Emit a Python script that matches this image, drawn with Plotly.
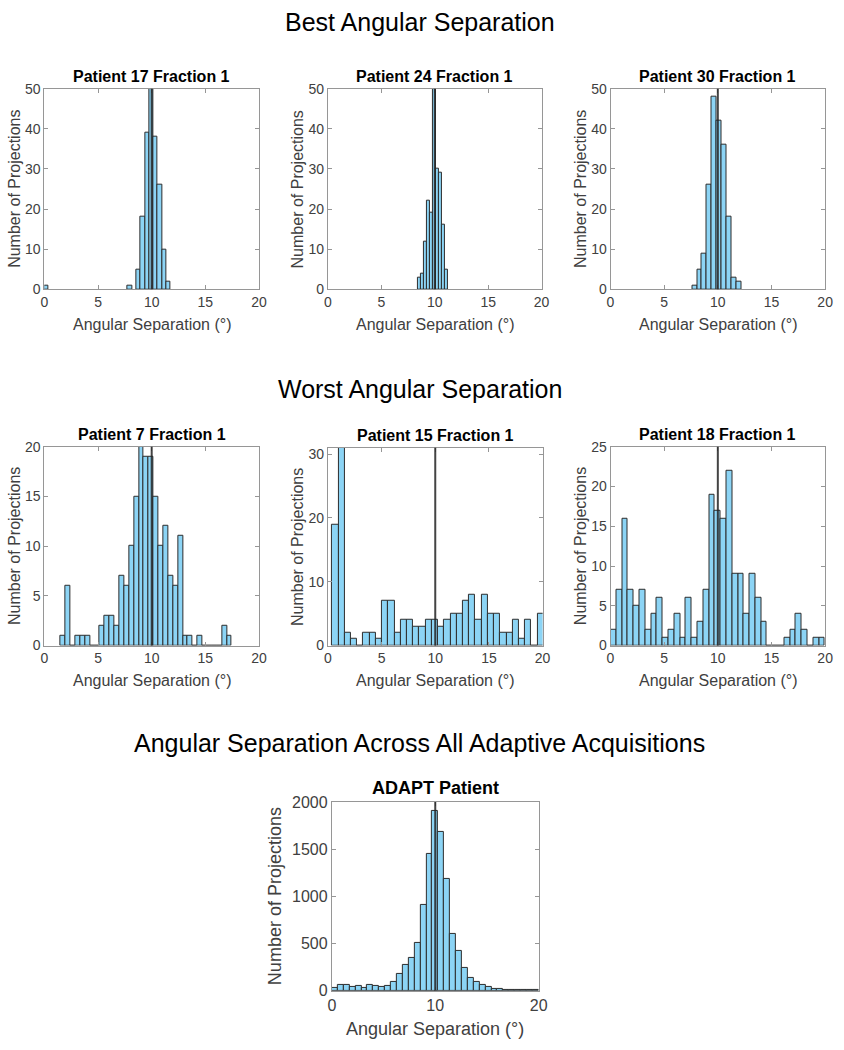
import plotly.graph_objects as go

W, H = 844, 1050
FONT = "Arial, Liberation Sans, sans-serif"

# ---- histogram data (bin centres / bin width / counts) ----
p17_x = [0.2, 7.97, 8.77, 9.17, 9.57, 9.97, 10.37, 10.77, 11.17, 11.57]
p17_counts = [1, 1, 5, 18, 39, 56, 38, 26, 10, 2]
p17_width = 0.4

p24_x0, p24_dx = 8.53, 0.283
p24_counts = [3, 4, 12, 22, 19, 58, 30, 29, 16, 5]

p30_x0, p30_dx = 7.84, 0.455
p30_counts = [1, 5, 9, 26, 48, 42, 36, 18, 3, 2]

p7_x0, p7_dx = 1.75, 0.4556
p7_counts = [1, 6, 0, 1, 1, 1, 0, 0, 2, 3, 3, 2, 7, 6, 10, 15, 20, 19, 19, 15,
             10, 12, 7, 6, 11, 1, 1, 0, 1, 0, 0, 0, 0, 2, 1]

p15_x0, p15_dx = 0.69, 0.58
p15_counts = [19, 40, 2, 1, 0, 2, 2, 1, 7, 7, 2, 4, 4, 3, 3, 4, 4, 3, 4, 5,
              5, 7, 8, 4, 8, 5, 5, 2, 2, 4, 1, 4, 0, 5]

p18_x0, p18_dx = 0.27, 0.54
p18_counts = [2, 7, 16, 7, 5, 7, 2, 4, 6, 1, 2, 4, 1, 6, 1, 3, 7, 19, 17, 16,
              22, 9, 9, 4, 9, 6, 3, 0, 0, 0, 1, 2, 4, 2, 0, 1, 1]

adapt_x0, adapt_dx = 0.2857, 0.5714
adapt_counts = [28, 63, 63, 45, 52, 35, 63, 56, 42, 52, 98, 178, 273, 350, 510,
                913, 1450, 1900, 1680, 1190, 605, 420, 245, 140, 91, 63, 42, 20,
                15, 12, 10, 8, 5, 5, 5]

titles = ["Patient 17 Fraction 1", "Patient 24 Fraction 1", "Patient 30 Fraction 1",
          "Patient 7 Fraction 1", "Patient 15 Fraction 1", "Patient 18 Fraction 1",
          "ADAPT Patient"]
section_titles = ["Best Angular Separation", "Worst Angular Separation",
                  "Angular Separation Across All Adaptive Acquisitions"]
y_ranges = [50, 50, 50, 20, 31, 25, 2000]
y_dticks = [10, 10, 10, 5, 10, 5, 500]
x_dticks = [5, 5, 5, 5, 5, 5, 10]
ref_angle = 10

# ---- layout geometry (page pixels: left, top, right, bottom) ----
boxes = [(41, 82, 259, 286), (329, 82, 546, 286), (616, 82, 834, 286),
         (41, 446, 259, 648), (329, 447, 547, 648), (616, 446, 834, 648),
         (333, 807, 543, 999)]
section_y = [14, 387, 747]

BAR_FILL = "rgb(140,212,245)"
BAR_EDGE = "rgb(45,45,45)"
AX_GRAY = "rgb(150,150,150)"
TXT_GRAY = "rgb(64,64,64)"


def fx(px):
    return px / W


def fy(py):
    return 1 - py / H


fig = go.Figure()

bars = [
    dict(x=p17_x, y=p17_counts, width=p17_width),
    dict(x0=p24_x0, dx=p24_dx, y=p24_counts, width=p24_dx),
    dict(x0=p30_x0, dx=p30_dx, y=p30_counts, width=p30_dx),
    dict(x0=p7_x0, dx=p7_dx, y=p7_counts, width=p7_dx),
    dict(x0=p15_x0, dx=p15_dx, y=p15_counts, width=p15_dx),
    dict(x0=p18_x0, dx=p18_dx, y=p18_counts, width=p18_dx),
    dict(x0=adapt_x0, dx=adapt_dx, y=adapt_counts, width=adapt_dx),
]


def note(text, x, y, size, color, angle=0):
    return dict(text=text, x=fx(x), y=fy(y), xref="paper", yref="paper",
                xanchor="center", yanchor="middle", textangle=angle, showarrow=False,
                font=dict(family=FONT, size=size, color=color))


annotations = []
for i, (b, box) in enumerate(zip(bars, boxes)):
    n = i + 1
    xa = "x" if n == 1 else f"x{n}"
    ya = "y" if n == 1 else f"y{n}"
    big = n == 7
    tick_size = 16 if big else 14
    lab_size = 18 if big else 16
    fig.add_trace(go.Bar(**b, xaxis=xa, yaxis=ya, showlegend=False,
                         marker=dict(color=BAR_FILL, line=dict(color=BAR_EDGE, width=1))))
    l, t, r, btm = box
    axis_common = dict(showline=True, linecolor=AX_GRAY, linewidth=1, mirror="ticks",
                       ticks="inside", ticklen=4, tickcolor=AX_GRAY, showgrid=False,
                       zeroline=False, ticklabeloverflow="allow",
                       tickfont=dict(family=FONT, size=tick_size, color=TXT_GRAY))
    fig.layout[f"xaxis{'' if n == 1 else n}"] = dict(
        domain=[fx(l), fx(r)], anchor=ya, range=[0, 20], dtick=x_dticks[i], tick0=0,
        **axis_common)
    fig.layout[f"yaxis{'' if n == 1 else n}"] = dict(
        domain=[fy(btm), fy(t)], anchor=xa, range=[0, y_ranges[i]],
        dtick=y_dticks[i], tick0=0, **axis_common)
    fig.add_shape(type="line", xref=xa, yref=f"{ya} domain", x0=ref_angle, x1=ref_angle,
                  y0=0, y1=1, line=dict(color="rgba(35,35,35,0.85)", width=2))
    cx = (l + r) / 2
    annotations.append(note(f"<b>{titles[i]}</b>", cx, t - (14 if big else 12),
                            18 if big else 16, "black"))
    annotations.append(note("Angular Separation (°)", cx, btm + (39 if big else 36),
                            lab_size, TXT_GRAY))
    annotations.append(note("Number of Projections", l - (57 if big else 31), (t + btm) / 2,
                            lab_size, TXT_GRAY, angle=-90))

for s, sy in zip(section_titles, section_y):
    annotations.append(note(s, W / 2, sy, 25, "black"))

fig.update_layout(width=W, height=H, margin=dict(l=0, r=0, t=0, b=0),
                  plot_bgcolor="white", paper_bgcolor="white", bargap=0,
                  annotations=annotations)

# drop the browser's default 8px body margin so the figure fills the page exactly
fig.write_html("out.html", config={"displayModeBar": False},
               post_script="document.body.style.margin='0';document.body.style.overflow='hidden';")
